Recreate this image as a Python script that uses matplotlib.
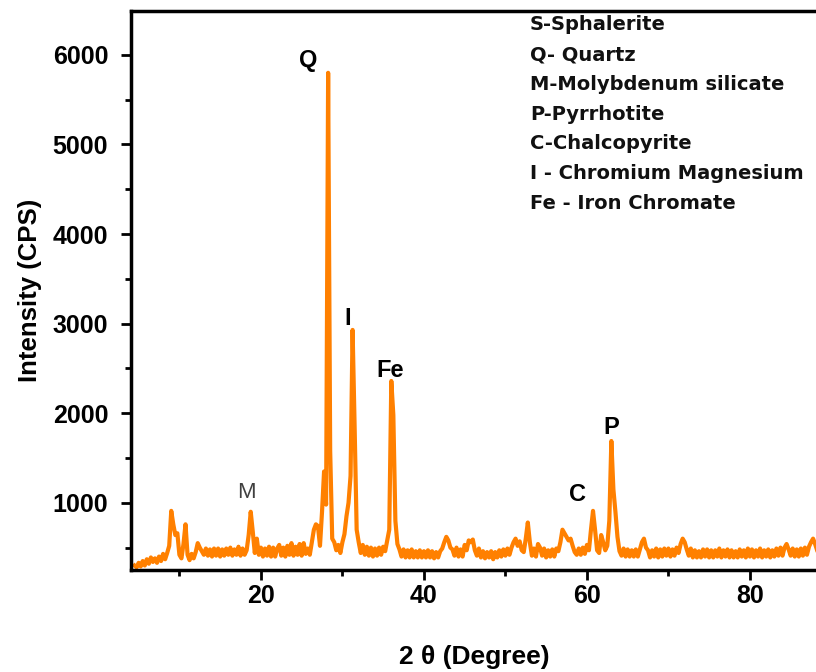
import numpy as np
import matplotlib
matplotlib.use('Agg')
import matplotlib.pyplot as plt
from matplotlib.ticker import MultipleLocator

plt.rcParams['font.family'] = ['Liberation Sans', 'DejaVu Sans']

# 2-theta grid (0.25 deg steps) and intensities
theta_start, theta_end, theta_step = 4.5, 88.5, 0.25
intensity = [
    300, 280, 330, 290, 350, 300, 370, 320, 390, 340, 380, 330, 400, 350, 430, 370, 440, 520, 910, 760,   # 4.5 - 9.25
    640, 660, 420, 380, 540, 760, 420, 360, 430, 380, 450, 550, 500, 460, 420, 490, 410, 480, 400, 490,   # 9.5 - 14.25
    410, 490, 400, 480, 410, 490, 420, 500, 410, 480, 420, 510, 410, 490, 420, 470, 640, 900, 680, 440,   # 14.5 - 19.25
    600, 420, 500, 400, 490, 410, 510, 400, 500, 400, 490, 530, 410, 500, 400, 520, 420, 550, 410, 510,   # 19.5 - 24.25
    420, 540, 410, 550, 430, 490, 420, 560, 700, 760, 740, 520, 900, 1350, 980, 5800, 1580, 600, 560, 470,  # 24.5 - 29.25
    530, 440, 560, 650, 850, 1000, 1300, 2930, 1850, 700, 560, 440, 530, 420, 510, 410, 500, 400, 490, 410,  # 29.5 - 34.25
    500, 420, 510, 460, 580, 700, 2360, 1980, 800, 540, 480, 400, 480, 390, 470, 390, 480, 390, 460, 390,  # 34.5 - 39.25
    470, 390, 460, 390, 470, 390, 460, 380, 450, 390, 460, 490, 560, 620, 580, 500, 480, 410, 500, 400,   # 39.5 - 44.25
    480, 400, 530, 470, 580, 560, 590, 470, 410, 490, 390, 460, 380, 450, 390, 460, 370, 450, 390, 470,   # 44.5 - 49.25
    400, 480, 410, 490, 420, 500, 560, 600, 520, 570, 470, 450, 600, 780, 560, 410, 490, 400, 540, 500,   # 49.5 - 54.25
    410, 490, 390, 470, 400, 480, 400, 490, 460, 560, 700, 660, 620, 580, 600, 520, 450, 420, 490, 420,   # 54.5 - 59.25
    500, 430, 530, 470, 700, 910, 700, 470, 440, 640, 560, 470, 520, 800, 1690, 1150, 900, 620, 460, 410,  # 59.5 - 64.25
    490, 400, 480, 400, 470, 400, 480, 400, 480, 560, 600, 500, 470, 390, 470, 400, 490, 390, 480, 400,   # 64.5 - 69.25
    490, 410, 490, 400, 480, 410, 500, 440, 540, 600, 560, 480, 410, 490, 390, 470, 390, 460, 390, 480,   # 69.5 - 74.25
    400, 480, 390, 470, 390, 470, 400, 490, 390, 470, 400, 480, 390, 470, 390, 460, 390, 480, 400, 470,   # 74.5 - 79.25
    390, 490, 400, 480, 390, 470, 400, 490, 390, 470, 400, 480, 390, 470, 400, 490, 410, 500, 410, 500,   # 79.5 - 84.25
    540, 480, 410, 490, 400, 480, 400, 490, 410, 500, 420, 510, 560, 600, 540, 470, 460,                 # 84.5 - 88.5
]
two_theta = np.arange(theta_start, theta_end + theta_step / 2, theta_step)

# peak labels
peak_labels = ['Q', 'I', 'Fe', 'M', 'C', 'P']
peak_x = [25.8, 30.7, 35.8, 18.2, 58.8, 63.0]
peak_y = [5940, 3060, 2480, 1110, 1090, 1840]

legend_lines = ['S-Sphalerite', 'Q- Quartz', 'M-Molybdenum silicate', 'P-Pyrrhotite',
                'C-Chalcopyrite', 'I - Chromium Magnesium', 'Fe - Iron Chromate']

x_min, x_max = 4, 88.4
fig = plt.figure(figsize=(8.16, 6.72), dpi=100)
ax = fig.add_axes([130.5 / 816, 102 / 672, (x_max - x_min) * 8.15 / 816, 559 / 672])

ax.plot(two_theta, intensity, color='#ff8000', linewidth=3)

ax.set_xlim(x_min, x_max)
ax.set_ylim(250, 6490)
ax.xaxis.set_major_locator(MultipleLocator(20))
ax.xaxis.set_minor_locator(MultipleLocator(10))
ax.yaxis.set_major_locator(MultipleLocator(1000))
ax.yaxis.set_minor_locator(MultipleLocator(500))
ax.tick_params(which='major', direction='out', length=7, width=2, labelsize=18)
ax.tick_params(axis='y', which='major', pad=9)
ax.tick_params(axis='x', which='major', pad=3)
ax.tick_params(which='minor', direction='out', length=4, width=2)
for lab in ax.get_xticklabels() + ax.get_yticklabels():
    lab.set_fontweight('bold')
for sp in ax.spines.values():
    sp.set_linewidth(2.5)
ax.spines['right'].set_visible(False)

ax.set_xlabel('2 θ (Degree)', fontsize=19, fontweight='bold', labelpad=27)
ax.set_ylabel('Intensity (CPS)', fontsize=18.5, fontweight='bold', labelpad=8)

for lab, px, py in zip(peak_labels, peak_x, peak_y):
    if lab == 'M':
        ax.text(px, py, lab, fontsize=16, color='#404040', ha='center', va='center')
    else:
        ax.text(px, py, lab, fontsize=17, fontweight='bold', color='black', ha='center', va='center')

for i, line in enumerate(legend_lines):
    fig.text(530 / 816, 1 - (25 + i * 29.7) / 672, line, fontsize=14, fontweight='bold',
             family='DejaVu Sans', ha='left', va='center', color='#111111')

plt.savefig('out.png', dpi=100)
